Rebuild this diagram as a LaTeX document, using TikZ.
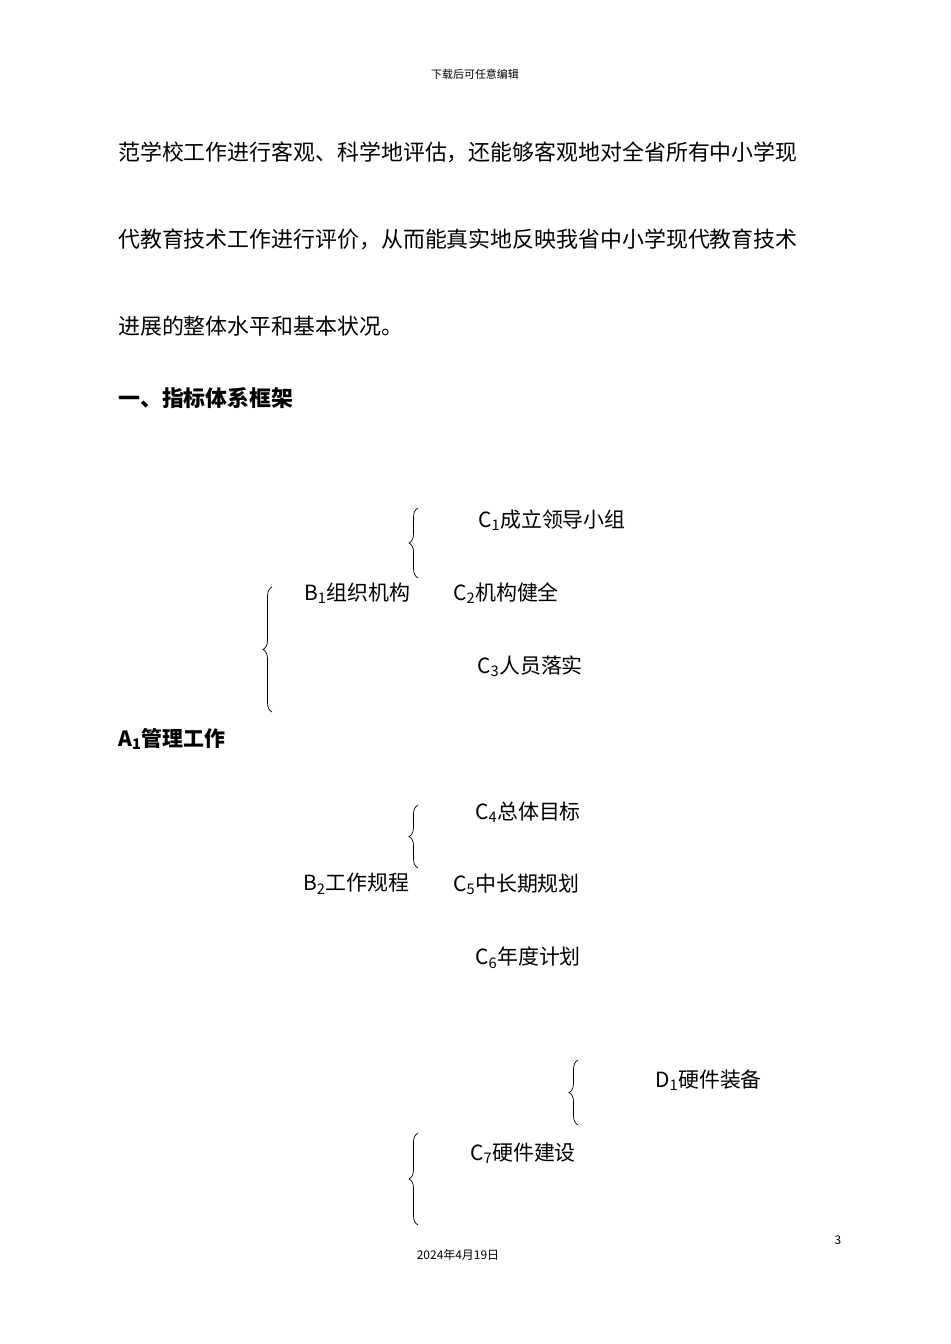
\documentclass[tikz,border=0pt]{standalone}
\usepackage{fontspec}
\setmainfont{Noto Sans CJK SC}
\newfontfamily\serifcjk{Noto Sans CJK SC}
\usetikzlibrary{decorations.pathreplacing}
\begin{document}
\begin{tikzpicture}[x=1bp,y=-1bp,
  body/.style={anchor=west,inner sep=0,font=\fontsize{22}{22}\selectfont},
  item/.style={anchor=west,inner sep=0,font=\fontsize{21}{21}\selectfont},
  br/.style={decorate,decoration={brace,amplitude=9bp},line width=0.7pt}]
\useasboundingbox (0,0) rectangle (950,1344);
\node[anchor=center,font=\fontsize{11}{11}\selectfont] (hd) at (475,74) {下载后可任意编辑};
\node[body] (l1) at (118,152) {范学校工作进行客观、科学地评估，还能够客观地对全省所有中小学现};
\node[body] (l2) at (118,239) {代教育技术工作进行评价，从而能真实地反映我省中小学现代教育技术};
\node[body] (l3) at (118,326) {进展的整体水平和基本状况。};
\node[body,font=\fontsize{22}{22}\selectfont\bfseries] (h1) at (118,398) {一、指标体系框架};

\node[item] (c1) at (478,520) {C\textsubscript{1}成立领导小组};
\node[item] (b1) at (304,593) {B\textsubscript{1}组织机构};
\node[item] (c2) at (453,593) {C\textsubscript{2}机构健全};
\node[item] (c3) at (477,666) {C\textsubscript{3}人员落实};
\node[item,font=\fontsize{21}{21}\selectfont\bfseries] (a1) at (118,739) {A\textsubscript{1}管理工作};
\node[item] (c4) at (475,812) {C\textsubscript{4}总体目标};
\node[item] (b2) at (303,884) {B\textsubscript{2}工作规程};
\node[item] (c5) at (453,884) {C\textsubscript{5}中长期规划};
\node[item] (c6) at (475,958) {C\textsubscript{6}年度计划};
\node[item] (d1) at (655,1080) {D\textsubscript{1}硬件装备};
\node[item] (c7) at (470,1153) {C\textsubscript{7}硬件建设};

\coordinate (k1a) at (418,578); \coordinate (k1b) at (418,508);
\coordinate (k2a) at (272,712); \coordinate (k2b) at (272,587);
\coordinate (k3a) at (418,868); \coordinate (k3b) at (418,805);
\coordinate (k4a) at (578,1125); \coordinate (k4b) at (578,1060);
\coordinate (k5a) at (418,1225); \coordinate (k5b) at (418,1133);
\foreach \p in {1,...,5} \draw[br] (k\p a) -- (k\p b);

\node[anchor=center,font=\fontsize{12}{12}\selectfont] (pg) at (838,1240) {3};
\node[anchor=center,font=\fontsize{12}{12}\selectfont] (ft) at (458,1255) {2024年4月19日};
\end{tikzpicture}
\end{document}
